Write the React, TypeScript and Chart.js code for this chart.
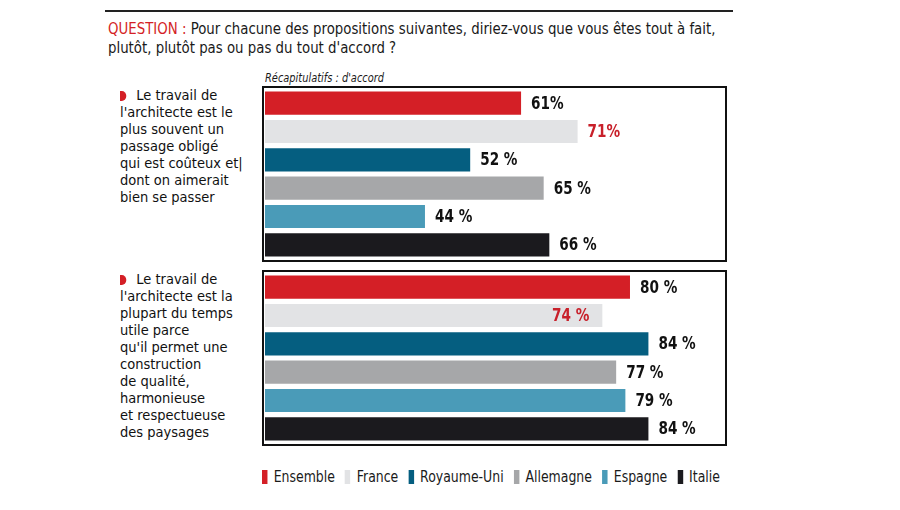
import React, { useEffect, useRef } from "react";
import { Chart, registerables } from "chart.js";

Chart.register(...registerables);

const countries = ["Ensemble", "France", "Royaume-Uni", "Allemagne", "Espagne", "Italie"];
const colors = ["#d41f26", "#e2e3e5", "#055e80", "#a6a7a9", "#4a9bb8", "#1b1a1e"];
const labelColors = ["#111111", "#c8202a", "#111111", "#111111", "#111111", "#111111"];
const valuesQ1 = [61, 71, 52, 65, 44, 66];
const valuesQ2 = [80, 74, 84, 77, 79, 84];
const textLabelsQ1 = ["61%", "71%", "52 %", "65 %", "44 %", "66 %"];
const textLabelsQ2 = ["80 %", "74 %", "84 %", "77 %", "79 %", "84 %"];
const insideQ1 = [false, false, false, false, false, false];
const insideQ2 = [false, true, false, false, false, false];
const axisQ1 = { min: 15.7, max: 96.9 };
const axisQ2 = { min: 0.8, max: 100.4 };

const questionLines = [
  "Pour chacune des propositions suivantes, diriez-vous que vous êtes tout à fait,",
  "plutôt, plutôt pas ou pas du tout d'accord ?",
];
const textQ1 = [
  "Le travail de",
  "l'architecte est le",
  "plus souvent un",
  "passage obligé",
  "qui est coûteux et|",
  "dont on aimerait",
  "bien se passer",
];
const textQ2 = [
  "Le travail de",
  "l'architecte est la",
  "plupart du temps",
  "utile parce",
  "qu'il permet une",
  "construction",
  "de qualité,",
  "harmonieuse",
  "et respectueuse",
  "des paysages",
];

const FONT = "'DejaVu Sans', sans-serif";

function BarBox({
  values,
  texts,
  inside,
  axis,
}: {
  values: number[];
  texts: string[];
  inside: boolean[];
  axis: { min: number; max: number };
}) {
  const ref = useRef<HTMLCanvasElement | null>(null);
  useEffect(() => {
    if (!ref.current) return;
    const labelPlugin = {
      id: "valueLabels",
      afterDatasetsDraw(chart: any) {
        const ctx = chart.ctx;
        const meta = chart.getDatasetMeta(0);
        meta.data.forEach((bar: any, i: number) => {
          ctx.save();
          ctx.font = "bold 17px " + FONT;
          ctx.textBaseline = "middle";
          ctx.fillStyle = labelColors[i];
          if (inside[i]) {
            ctx.translate(bar.x - 13, bar.y + 1);
            ctx.textAlign = "right";
          } else {
            ctx.translate(bar.x + 10, bar.y + 1);
            ctx.textAlign = "left";
          }
          ctx.scale(0.8, 1);
          ctx.fillText(texts[i], 0, 0);
          ctx.restore();
        });
      },
    };
    const boxPlugin = {
      id: "frame",
      afterDraw(chart: any) {
        const ctx = chart.ctx;
        ctx.save();
        ctx.strokeStyle = "#111";
        ctx.lineWidth = 2;
        ctx.strokeRect(1, 1, chart.width - 2, chart.height - 2);
        ctx.restore();
      },
    };
    const chart = new Chart(ref.current, {
      type: "bar",
      data: {
        labels: countries,
        datasets: [
          {
            data: values,
            backgroundColor: colors,
            borderWidth: 0,
            barPercentage: 0.82,
            categoryPercentage: 1,
          },
        ],
      },
      options: {
        indexAxis: "y",
        animation: false,
        responsive: false,
        maintainAspectRatio: false,
        layout: { padding: { left: 3, right: 3, top: 3, bottom: 3 } },
        plugins: { legend: { display: false }, tooltip: { enabled: false }, title: { display: false } },
        scales: {
          x: { display: false, min: axis.min, max: axis.max },
          y: { display: false },
        },
      },
      plugins: [labelPlugin, boxPlugin],
    });
    return () => chart.destroy();
  }, []);
  return <canvas ref={ref} width={465} height={176} style={{ width: 465, height: 176, display: "block" }} />;
}

function SideText({ lines }: { lines: string[] }) {
  return (
    <div
      style={{
        fontFamily: FONT,
        fontSize: 14.5,
        lineHeight: "17px",
        color: "#111",
        transform: "scaleX(0.9)",
        transformOrigin: "0 0",
      }}
    >
      {lines.map((l, i) => (
        <div key={i} style={{ whiteSpace: "nowrap" }}>
          {i === 0 && (
            <span
              style={{
                display: "inline-block",
                width: 7,
                height: 10,
                background: "#d41f26",
                borderRadius: "0 5px 5px 0",
                marginRight: 11,
                verticalAlign: "-1px",
              }}
            />
          )}
          {l}
        </div>
      ))}
    </div>
  );
}

export default function App() {
  return (
    <div style={{ position: "relative", width: 900, height: 510, margin: -8, background: "#fff", overflow: "hidden" }}>
      <div style={{ position: "absolute", left: 105, top: 10, width: 628, height: 2, background: "#222" }} />
      <div
        style={{
          position: "absolute",
          left: 108,
          top: 20,
          fontFamily: FONT,
          fontSize: 15.5,
          lineHeight: "19px",
          color: "#1a1a1a",
          whiteSpace: "nowrap",
          transform: "scaleX(0.86)",
          transformOrigin: "0 0",
        }}
      >
        <span style={{ color: "#d41f26" }}>QUESTION : </span>
        {questionLines[0]}
        <br />
        {questionLines[1]}
      </div>
      <div
        style={{
          position: "absolute",
          left: 265,
          top: 71,
          fontFamily: FONT,
          fontSize: 12,
          fontStyle: "italic",
          color: "#1a1a1a",
          whiteSpace: "nowrap",
          transform: "scaleX(0.82)",
          transformOrigin: "0 0",
        }}
      >
        Récapitulatifs : d'accord
      </div>
      <div style={{ position: "absolute", left: 120, top: 87 }}>
        <SideText lines={textQ1} />
      </div>
      <div style={{ position: "absolute", left: 120, top: 271 }}>
        <SideText lines={textQ2} />
      </div>
      <div style={{ position: "absolute", left: 262, top: 86 }}>
        <BarBox values={valuesQ1} texts={textLabelsQ1} inside={insideQ1} axis={axisQ1} />
      </div>
      <div style={{ position: "absolute", left: 262, top: 270 }}>
        <BarBox values={valuesQ2} texts={textLabelsQ2} inside={insideQ2} axis={axisQ2} />
      </div>
      <div
        style={{
          position: "absolute",
          left: 262,
          top: 467,
          display: "flex",
          fontFamily: FONT,
          fontSize: 16,
          color: "#1a1a1a",
          whiteSpace: "nowrap",
          alignItems: "center",
          transform: "scaleX(0.78)",
          transformOrigin: "0 0",
        }}
      >
        {countries.map((c, i) => (
          <div key={c} style={{ display: "flex", alignItems: "center", marginRight: 13 }}>
            <span
              style={{ display: "inline-block", width: 7, height: 14, background: colors[i], marginRight: 8 }}
            />
            {c}
          </div>
        ))}
      </div>
    </div>
  );
}
